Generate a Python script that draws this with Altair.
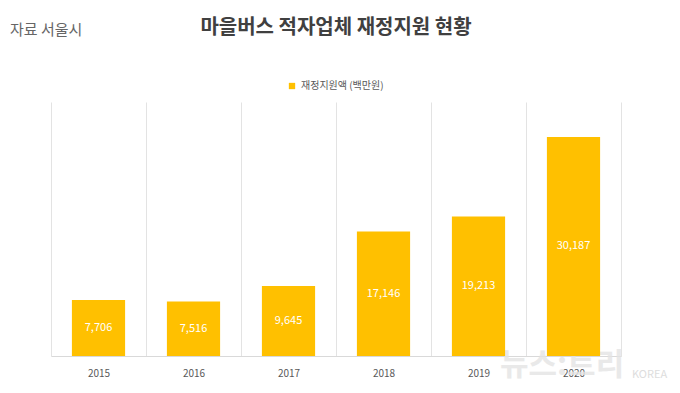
import altair as alt
import pandas as pd

years = ["2015", "2016", "2017", "2018", "2019", "2020"]
values = [7706, 7516, 9645, 17146, 19213, 30187]
series_name = "재정지원액 (백만원)"
title_text = "마을버스 적자업체 재정지원 현황"
source_text = "자료 서울시"

df = pd.DataFrame({"year": years, "value": values, "series": [series_name] * len(years)})

FONT = "Noto Sans CJK KR"

x_enc = alt.X(
    "year:N",
    title=None,
    sort=years,
    scale=alt.Scale(paddingInner=0, paddingOuter=0),
    axis=alt.Axis(
        grid=True,
        tickBand="extent",
        gridColor="#e3e3e3",
        gridWidth=1,
        domainColor="#d9d9d9",
        ticks=False,
        labelAngle=0,
        labelPadding=12,
        labelFontSize=10,
        labelColor="#595959",
        labelFont=FONT,
    ),
)
y_scale = alt.Scale(domain=[0, 35000], nice=False)

bars = alt.Chart(df).mark_bar(width=alt.RelativeBandSize(0.56), color="#FFC000").encode(
    x=x_enc,
    y=alt.Y("value:Q", scale=y_scale, axis=None),
    color=alt.Color(
        "series:N",
        scale=alt.Scale(range=["#FFC000"]),
        legend=alt.Legend(
            title=None,
            orient="none",
            legendX=236,
            legendY=-21,
            symbolType="square",
            symbolSize=40,
            symbolStrokeWidth=0,
            labelFontSize=10,
            labelColor="#595959",
            labelFont=FONT,
        ),
    ),
)

labels = alt.Chart(df).transform_calculate(mid="datum.value / 2").mark_text(
    color="white", fontSize=11, font=FONT, baseline="middle"
).encode(
    x=alt.X("year:N", sort=years),
    y=alt.Y("mid:Q", scale=y_scale),
    text=alt.Text("value:Q", format=","),
)

one = pd.DataFrame({"k": [0]})
title = alt.Chart(one).mark_text(
    fontSize=20, fontWeight="bold", font=FONT, color="#404040", align="center", baseline="middle"
).encode(x=alt.value(285), y=alt.value(-74), text=alt.value(title_text))

source = alt.Chart(one).mark_text(
    fontSize=15, font=FONT, color="#666666", align="left", baseline="middle"
).encode(x=alt.value(-41), y=alt.value(-72), text=alt.value(source_text))

wm1 = alt.Chart(one).mark_text(
    fontSize=31, fontWeight="bold", font=FONT, color="#e4e4e4", align="left", baseline="middle", opacity=0.8
).encode(x=alt.value(449), y=alt.value(264), text=alt.value("뉴스:트리"))

wm2 = alt.Chart(one).mark_text(
    fontSize=11, font=FONT, color="#dddddd", align="left", baseline="middle"
).encode(x=alt.value(581), y=alt.value(273), text=alt.value("KOREA"))

chart = alt.layer(wm1, wm2, bars, labels, title, source).properties(
    width=570,
    height=254,
    padding={"left": 43, "top": 94, "right": 51, "bottom": 29},
    autosize=alt.AutoSizeParams(type="none"),
    background="white",
).configure_view(stroke=None)

chart.save("out.html", embed_options={"renderer": "svg", "actions": False})
